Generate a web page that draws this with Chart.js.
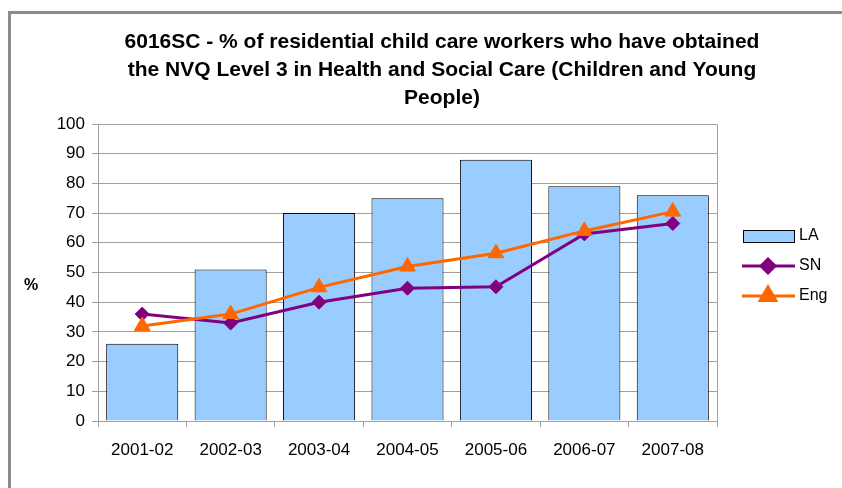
<!DOCTYPE html>
<html>
<head>
<meta charset="utf-8">
<script src="https://cdn.jsdelivr.net/npm/chart.js@4.4.1/dist/chart.umd.min.js"></script>
<style>
  html, body { margin: 0; padding: 0; background: #fff; }
  #wrap { width: 842px; height: 488px; position: relative; }
</style>
</head>
<body>
<div id="wrap"><canvas id="myChart" width="842" height="488"></canvas></div>
<script>
// Dados
const years = ['2001-02', '2002-03', '2003-04', '2004-05', '2005-06', '2006-07', '2007-08'];
const laValues = [26, 51, 70, 75, 88, 79, 76];
const snValues = [36, 33, 40, 44.7, 45.2, 63, 66.5];
const engValues = [32, 36, 45, 52, 56.5, 64, 70.5];
const titleLines = [
    '6016SC - % of residential child care workers who have obtained',
    'the NVQ Level 3 in Health and Social Care (Children and Young',
    'People)'
];
const legendNames = ['LA', 'SN', 'Eng'];

const FONT = '"Liberation Sans", Arial, sans-serif';

// Moldura, título, legenda e rótulo "%"
const decorPlugin = {
    id: 'decor',
    beforeDraw(chart) {
        const ctx = chart.ctx;
        ctx.save();
        ctx.fillStyle = '#fff';
        ctx.fillRect(0, 0, chart.width, chart.height);
        ctx.strokeStyle = '#8c8c8c';
        ctx.lineWidth = 3;
        ctx.beginPath();
        ctx.moveTo(9.5, chart.height + 5);
        ctx.lineTo(9.5, 12.5);
        ctx.lineTo(chart.width + 5, 12.5);
        ctx.stroke();
        ctx.restore();
    },
    afterDraw(chart) {
        const ctx = chart.ctx;
        const area = chart.chartArea;
        ctx.save();
        // borda da área do gráfico (topo e direita)
        ctx.strokeStyle = '#a0a0a0';
        ctx.lineWidth = 1;
        ctx.beginPath();
        ctx.moveTo(area.left, area.top + 0.5);
        ctx.lineTo(area.right + 0.5, area.top + 0.5);
        ctx.lineTo(area.right + 0.5, area.bottom);
        ctx.stroke();

        // título
        ctx.fillStyle = '#000';
        ctx.font = 'bold 21px ' + FONT;
        ctx.textAlign = 'center';
        ctx.textBaseline = 'middle';
        titleLines.forEach((t, i) => ctx.fillText(t, 442, 42 + i * 28));

        // rótulo do eixo
        ctx.font = 'bold 16px ' + FONT;
        ctx.fillText('%', 31, 286);

        // legenda
        ctx.font = '16px ' + FONT;
        ctx.textAlign = 'left';
        const ds = chart.data.datasets;
        const y0 = 236;
        ctx.fillStyle = ds[0].backgroundColor;
        ctx.fillRect(743, 230, 51, 12);
        ctx.strokeStyle = '#000';
        ctx.strokeRect(743.5, 230.5, 51, 12);
        ctx.fillStyle = '#000';
        ctx.fillText(legendNames[0], 799, y0);
        for (let i = 1; i < 3; i++) {
            const y = y0 + i * 30;
            ctx.strokeStyle = ds[i].borderColor;
            ctx.lineWidth = 3;
            ctx.beginPath();
            ctx.moveTo(742, y);
            ctx.lineTo(795, y);
            ctx.stroke();
            Chart.helpers.drawPoint(ctx, {
                pointStyle: ds[i].pointStyle,
                radius: ds[i].pointRadius,
                borderWidth: 1
            }, 768, y);
            ctx.fillStyle = ds[i].borderColor;
            ctx.fill();
            ctx.fillStyle = '#000';
            ctx.fillText(legendNames[i], 799, y);
        }
        ctx.restore();
    }
};

const ctx = document.getElementById('myChart').getContext('2d');
const myChart = new Chart(ctx, {
    type: 'bar',
    data: {
        labels: years,
        datasets: [{
            type: 'bar',
            label: legendNames[0],
            data: laValues,
            backgroundColor: '#99ccff',
            borderColor: '#000',
            borderWidth: 1,
            categoryPercentage: 1,
            barPercentage: 0.815,
            order: 3
        }, {
            type: 'line',
            label: legendNames[1],
            data: snValues,
            borderColor: '#800080',
            backgroundColor: '#800080',
            borderWidth: 3,
            pointStyle: 'rectRot',
            pointRadius: 7,
            pointBorderWidth: 1,
            tension: 0,
            order: 2
        }, {
            type: 'line',
            label: legendNames[2],
            data: engValues,
            borderColor: '#ff6600',
            backgroundColor: '#ff6600',
            borderWidth: 3,
            pointStyle: 'triangle',
            pointRadius: 9,
            pointBorderWidth: 1,
            tension: 0,
            order: 1
        }]
    },
    options: {
        responsive: false,
        animation: false,
        layout: {
            padding: { left: 10, right: 125, top: 124, bottom: 17 }
        },
        plugins: {
            legend: { display: false },
            title: { display: false },
            tooltip: { enabled: false }
        },
        scales: {
            x: {
                offset: true,
                grid: {
                    offset: true,
                    drawOnChartArea: false,
                    drawTicks: true,
                    tickLength: 6,
                    color: '#a0a0a0'
                },
                border: { color: '#a0a0a0' },
                ticks: {
                    color: '#000',
                    padding: 13,
                    font: { family: FONT, size: 17 },
                    maxRotation: 0
                },
                afterFit(scale) { scale.height = 50; }
            },
            y: {
                min: 0,
                max: 100,
                ticks: {
                    stepSize: 10,
                    color: '#000',
                    padding: 7,
                    font: { family: FONT, size: 17 }
                },
                grid: {
                    color: '#a0a0a0',
                    tickLength: 6
                },
                border: { color: '#a0a0a0' },
                afterFit(scale) { scale.width = 88; }
            }
        }
    },
    plugins: [decorPlugin]
});
</script>
</body>
</html>
